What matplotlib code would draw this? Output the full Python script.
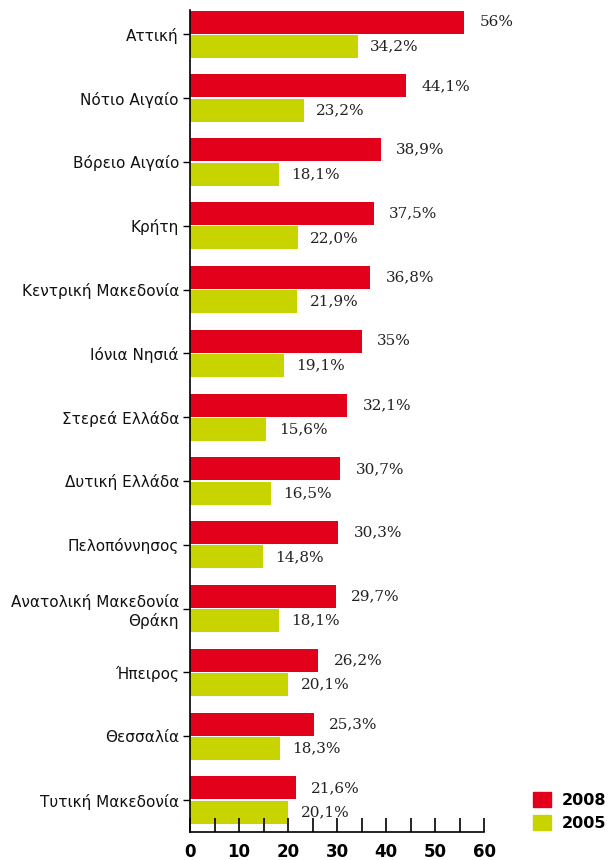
import matplotlib
matplotlib.use("Agg")
import matplotlib.pyplot as plt
from matplotlib.ticker import MultipleLocator
from matplotlib.patches import Patch
import numpy as np

regions = ["Αττική", "Νότιο Αιγαίο", "Βόρειο Αιγαίο", "Κρήτη", "Κεντρική Μακεδονία",
           "Ιόνια Νησιά", "Στερεά Ελλάδα", "Δυτική Ελλάδα", "Πελοπόννησος",
           "Ανατολική Μακεδονία\nΘράκη", "Ήπειρος", "Θεσσαλία", "Τυτική Μακεδονία"]
values_2008 = [56, 44.1, 38.9, 37.5, 36.8, 35, 32.1, 30.7, 30.3, 29.7, 26.2, 25.3, 21.6]
values_2005 = [34.2, 23.2, 18.1, 22.0, 21.9, 19.1, 15.6, 16.5, 14.8, 18.1, 20.1, 18.3, 20.1]
labels_2008 = ["56%", "44,1%", "38,9%", "37,5%", "36,8%", "35%", "32,1%", "30,7%", "30,3%",
               "29,7%", "26,2%", "25,3%", "21,6%"]
labels_2005 = ["34,2%", "23,2%", "18,1%", "22,0%", "21,9%", "19,1%", "15,6%", "16,5%",
               "14,8%", "18,1%", "20,1%", "18,3%", "20,1%"]
series_names = ["2008", "2005"]

RED = "#E2001A"
GREEN = "#C8D400"

fig = plt.figure(figsize=(6.1, 8.6), dpi=100)
ax = fig.add_axes([190/610, 1-832/860, (484-190)/610, (832-10)/860])

y = np.arange(len(regions))
h = 0.36
ax.barh(y - h/2 - 0.01, values_2008, height=h, color=RED)
ax.barh(y + h/2 + 0.01, values_2005, height=h, color=GREEN)

for yi, v, lab in zip(y, values_2008, labels_2008):
    ax.annotate(lab, (v, yi - h/2 - 0.01), xytext=(11, 0), textcoords="offset points",
                va="center", ha="left", fontsize=11, family="DejaVu Serif", color="#222222")
for yi, v, lab in zip(y, values_2005, labels_2005):
    ax.annotate(lab, (v, yi + h/2 + 0.01), xytext=(9, 0), textcoords="offset points",
                va="center", ha="left", fontsize=11, family="DejaVu Serif", color="#222222")

ax.set_ylim(len(regions) - 0.5, -0.38)
ax.set_xlim(0, 60)
ax.set_yticks(y)
ax.set_yticklabels(regions, fontsize=11, color="#111111", ha="right")
ax.xaxis.set_major_locator(MultipleLocator(10))
ax.xaxis.set_minor_locator(MultipleLocator(5))
ax.tick_params(axis="x", which="both", direction="in", length=10, width=1.2, color="black",
               labelsize=12, pad=8)
for t in ax.get_xticklabels():
    t.set_fontweight("bold")
ax.tick_params(axis="y", length=5, width=1, pad=3)
for s in ["top", "right"]:
    ax.spines[s].set_visible(False)
ax.spines["left"].set_linewidth(1.2)
ax.spines["bottom"].set_linewidth(1.2)

handles = [Patch(color=RED), Patch(color=GREEN)]
fig.legend(handles, series_names, loc="lower left", bbox_to_anchor=(533/610, 1-831/860),
           frameon=False, prop={"weight": "bold", "size": 11.5}, handlelength=1.1,
           handleheight=1.1, labelspacing=0.45, handletextpad=0.7, borderpad=0,
           borderaxespad=0)

fig.savefig("out.png", dpi=100)
